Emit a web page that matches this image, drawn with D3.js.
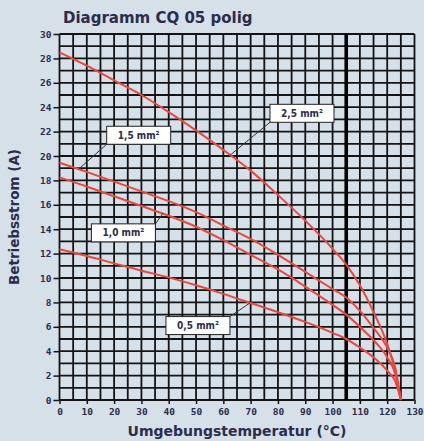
<!DOCTYPE html>
<html>
<head>
<meta charset="utf-8">
<script src="https://cdn.jsdelivr.net/npm/d3@7"></script>
<style>
  body { margin: 0; background: #d5e0e9; }
  svg { display: block; }
</style>
</head>
<body>
<div id="chart"></div>
<script>
// Werte
const temps   = [0, 10, 20, 30, 40, 50, 60, 70, 80, 90, 100, 105, 110, 115, 120, 123, 125];
const strom25 = [28.5, 27.4, 26.2, 25.0, 23.6, 22.1, 20.5, 18.8, 16.8, 14.7, 12.4, 11.1, 9.4, 7.2, 4.6, 2.3, 0];
const strom15 = [19.45, 18.7, 17.9, 17.1, 16.3, 15.4, 14.3, 13.2, 11.9, 10.5, 9.1, 8.4, 7.3, 5.9, 4.3, 2.6, 0];
const strom10 = [18.25, 17.5, 16.7, 15.9, 15.1, 14.2, 13.1, 11.9, 10.7, 9.3, 7.8, 7.0, 6.0, 4.9, 3.5, 2.1, 0];
const strom05 = [12.35, 11.8, 11.2, 10.6, 10.05, 9.4, 8.7, 7.95, 7.2, 6.4, 5.5, 5.0, 4.3, 3.5, 2.4, 1.5, 0];

const seriesNames = ["2,5 mm²", "1,5 mm²", "1,0 mm²", "0,5 mm²"];
const seriesValues = [strom25, strom15, strom10, strom05];

const xTicks = d3.range(0, 131, 10);
const yTicks = d3.range(0, 31, 2);
const maxTemp = 105;

// Beschriftungskästen: Mitte des Kastens (Daten-Einheiten), Ecke und Zielpunkt auf der Kurve
const callouts = [
  {series: 0, cx: 88.8, cy: 23.5, corner: "bl", toT: 62.5},
  {series: 1, cx: 29.0, cy: 21.7, corner: "bl", toT: 7},
  {series: 2, cx: 23.4, cy: 13.7, corner: "tr", toT: 37.8},
  {series: 3, cx: 50.7, cy: 6.1,  corner: "tr", toT: 69.8}
];

const W = 424, H = 441;
const margin = {top: 34, right: 9.5, bottom: 41, left: 59.5};
const width = W - margin.left - margin.right,
      height = H - margin.top - margin.bottom;

const textColor = "#2c2c4c";
const gridColor = "#141414";
const fontMono = "'DejaVu Sans Mono', monospace";
const fontBold = "'DejaVu Sans', sans-serif";
const fontBox = "'DejaVu Sans Condensed', 'DejaVu Sans', sans-serif";

const svg = d3.select("#chart").append("svg")
    .attr("width", W)
    .attr("height", H);

const g = svg.append("g")
    .attr("transform", `translate(${margin.left},${margin.top})`);

const x = d3.scaleLinear().domain([0, 130]).range([0, width]);
const y = d3.scaleLinear().domain([0, 30]).range([height, 0]);

// Gitter
g.append("g")
    .selectAll("line")
    .data(d3.range(0, 131, 5))
    .join("line")
    .attr("x1", d => x(d)).attr("x2", d => x(d))
    .attr("y1", 0).attr("y2", height)
    .style("stroke", gridColor)
    .style("stroke-width", 1.8);

g.append("g")
    .selectAll("line")
    .data(d3.range(0, 31, 1))
    .join("line")
    .attr("x1", 0).attr("x2", width)
    .attr("y1", d => y(d)).attr("y2", d => y(d))
    .style("stroke", gridColor)
    .style("stroke-width", 1.8);

// dicke Linie bei 105 °C
g.append("line")
    .attr("x1", x(maxTemp)).attr("x2", x(maxTemp))
    .attr("y1", 0).attr("y2", height)
    .style("stroke", "#000")
    .style("stroke-width", 3.6);

// Achsen
const xAxis = g.append("g")
    .attr("transform", `translate(0,${height})`)
    .call(d3.axisBottom(x).tickValues(xTicks).tickSize(4).tickPadding(4).tickFormat(d3.format("d")));
const yAxis = g.append("g")
    .call(d3.axisLeft(y).tickValues(yTicks).tickSize(6).tickPadding(2).tickFormat(d3.format("d")));

[xAxis, yAxis].forEach(a => {
  a.select(".domain").remove();
  a.selectAll(".tick line").style("stroke", gridColor).style("stroke-width", 1.5);
  a.selectAll(".tick text")
      .style("font-family", fontMono)
      .style("font-weight", "bold")
      .style("font-size", "9.5px")
      .style("fill", textColor);
});

// Kurven
const line = d3.line()
    .x((d, i) => x(temps[i]))
    .y(d => y(d))
    .curve(d3.curveMonotoneX);

g.append("g")
    .selectAll("path")
    .data(seriesValues)
    .join("path")
    .attr("d", d => line(d))
    .style("fill", "none")
    .style("stroke", "#e9473f")
    .style("stroke-width", 2);

// Beschriftungen
const valueAt = (vals, t) => {
  const i = d3.bisectRight(temps, t) - 1;
  const f = (t - temps[i]) / (temps[i + 1] - temps[i]);
  return vals[i] + f * (vals[i + 1] - vals[i]);
};

const boxW = 64, boxH = 18;
callouts.forEach(c => {
  const cx = x(c.cx), cy = y(c.cy);
  const left = cx - boxW / 2, top = cy - boxH / 2;
  const sx = c.corner === "bl" ? left : left + boxW;
  const sy = c.corner === "bl" ? top + boxH : top;
  g.append("line")
      .attr("x1", sx).attr("y1", sy)
      .attr("x2", x(c.toT)).attr("y2", y(valueAt(seriesValues[c.series], c.toT)))
      .style("stroke", "#333")
      .style("stroke-width", 1);
  g.append("rect")
      .attr("x", left).attr("y", top)
      .attr("width", boxW).attr("height", boxH)
      .style("fill", "#fff")
      .style("stroke", "#222")
      .style("stroke-width", 1);
  g.append("text")
      .attr("x", cx).attr("y", cy)
      .attr("dy", "0.35em")
      .attr("text-anchor", "middle")
      .style("font-family", fontBox)
      .style("font-weight", "bold")
      .style("font-size", "10px")
      .style("fill", textColor)
      .text(seriesNames[c.series]);
});

// Titel
svg.append("text")
    .attr("x", 63).attr("y", 23)
    .style("font-family", fontBold)
    .style("font-weight", "bold")
    .style("font-size", "15px")
    .style("fill", textColor)
    .text("Diagramm CQ 05 polig");

svg.append("text")
    .attr("x", margin.left + width / 2).attr("y", 436)
    .attr("text-anchor", "middle")
    .style("font-family", fontBold)
    .style("font-weight", "bold")
    .style("font-size", "14px")
    .style("fill", textColor)
    .text("Umgebungstemperatur (°C)");

svg.append("text")
    .attr("transform", `translate(19,${margin.top + height / 2}) rotate(-90)`)
    .attr("text-anchor", "middle")
    .style("font-family", fontBold)
    .style("font-weight", "bold")
    .style("font-size", "13.5px")
    .style("fill", textColor)
    .text("Betriebsstrom (A)");
</script>
</body>
</html>
